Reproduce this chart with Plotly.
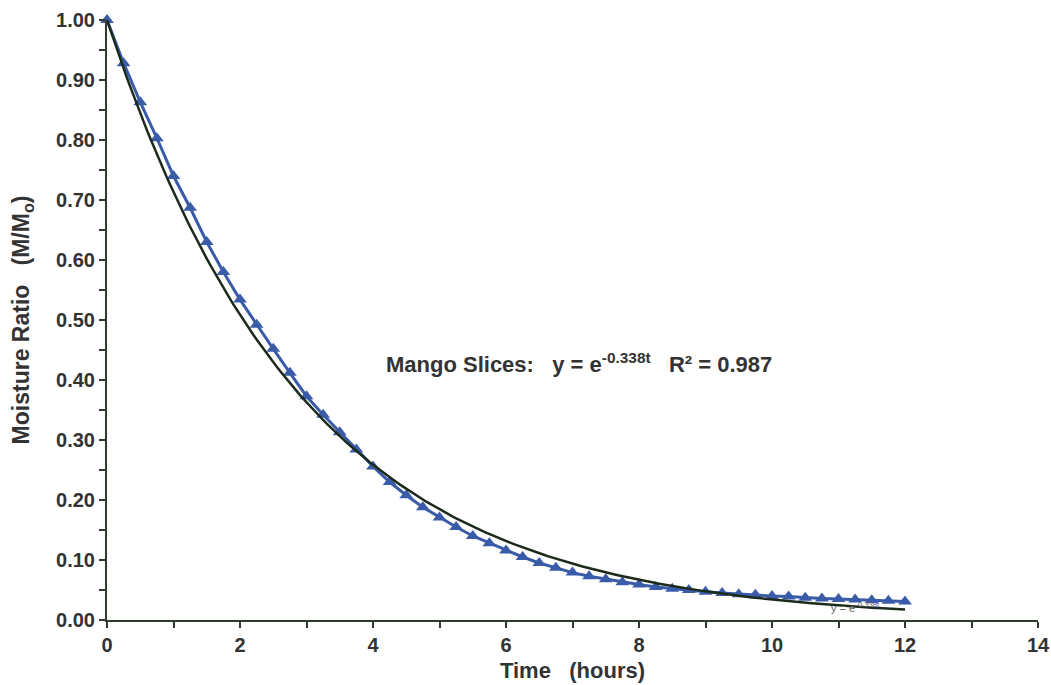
import numpy as np
import plotly.graph_objects as go

time_h = [0, 0.25, 0.5, 0.75, 1.0, 1.25, 1.5, 1.75, 2.0, 2.25, 2.5, 2.75, 3.0, 3.25, 3.5, 3.75,
          4.0, 4.25, 4.5, 4.75, 5.0, 5.25, 5.5, 5.75, 6.0, 6.25, 6.5, 6.75, 7.0, 7.25, 7.5, 7.75,
          8.0, 8.25, 8.5, 8.75, 9.0, 9.25, 9.5, 9.75, 10.0, 10.25, 10.5, 10.75, 11.0, 11.25, 11.5,
          11.75, 12.0]
moisture_ratio = [1.00, 0.928, 0.863, 0.803, 0.740, 0.687, 0.630, 0.580, 0.534, 0.492, 0.452, 0.412,
                  0.373, 0.342, 0.313, 0.284, 0.256, 0.230, 0.208, 0.188, 0.171, 0.155, 0.140, 0.128,
                  0.116, 0.105, 0.095, 0.087, 0.079, 0.073, 0.068, 0.063, 0.059, 0.055, 0.052, 0.050,
                  0.047, 0.045, 0.043, 0.042, 0.040, 0.039, 0.037, 0.036, 0.035, 0.034, 0.033, 0.032,
                  0.031]
fit_k = 0.338
fit_t = np.linspace(0, 12, 241)
fit_y = np.exp(-fit_k * fit_t)

x_ticks = [0, 2, 4, 6, 8, 10, 12, 14]
y_ticks = [round(0.1 * i, 2) for i in range(11)]

axis_col = "#2e3b2e"
text_col = "#333333"
FONT = "Arial, Liberation Sans, sans-serif"

fig = go.Figure()
fig.add_trace(go.Scatter(
    x=time_h, y=moisture_ratio, mode="lines+markers",
    line=dict(color="#3a5ca8", width=3),
    marker=dict(symbol="triangle-up", size=12, color="#3a5ca8"),
    cliponaxis=False, showlegend=False, hoverinfo="x+y"))
fig.add_trace(go.Scatter(
    x=fit_t, y=fit_y, mode="lines",
    line=dict(color="#1c2a1c", width=2.5),
    cliponaxis=False, showlegend=False, hoverinfo="skip"))

fig.add_annotation(
    x=7.1, y=0.428, xref="x", yref="y", showarrow=False,
    text="<b>Mango Slices:   y = e<sup>-0.338t</sup>   R² = 0.987</b>",
    font=dict(family=FONT, size=22, color=text_col))
fig.add_annotation(
    x=11.25, y=0.022, xref="x", yref="y", showarrow=False,
    text="y = e<sup>-0.338t</sup>",
    font=dict(family=FONT, size=11, color="#666666"))

fig.update_layout(
    width=1051, height=685,
    margin=dict(l=107, r=13, t=20, b=65),
    paper_bgcolor="white", plot_bgcolor="white",
    font=dict(family=FONT, color=text_col),
    xaxis=dict(
        range=[0, 14], tickvals=x_ticks, ticktext=[str(v) for v in x_ticks],
        automargin=False,
        showgrid=False, zeroline=False, showline=True, linecolor=axis_col, linewidth=2,
        ticks="outside", ticklen=6, tickwidth=2, tickcolor=axis_col,
        minor=dict(dtick=1, ticks="outside", ticklen=6, tickwidth=2, tickcolor=axis_col, showgrid=False),
        tickfont=dict(size=20, color=text_col, family=FONT, weight="bold"),
        title=dict(text="<b>Time   (hours)</b>", font=dict(size=22, color=text_col, family=FONT), standoff=8),
    ),
    yaxis=dict(
        range=[0, 1], tickvals=y_ticks, ticktext=[f"{v:.2f}" for v in y_ticks],
        automargin=False,
        showgrid=False, zeroline=False, showline=True, linecolor=axis_col, linewidth=2,
        ticks="outside", ticklen=6, tickwidth=2, tickcolor=axis_col,
        minor=dict(dtick=0.05, ticks="outside", ticklen=6, tickwidth=2, tickcolor=axis_col, showgrid=False),
        tickfont=dict(size=20, color=text_col, family=FONT, weight="bold"),
        title=dict(text="<b>Moisture Ratio   (M/M<sub>o</sub>)</b>", font=dict(size=23, color=text_col, family=FONT), standoff=20),
    ),
)

fig.write_html("out.html")
